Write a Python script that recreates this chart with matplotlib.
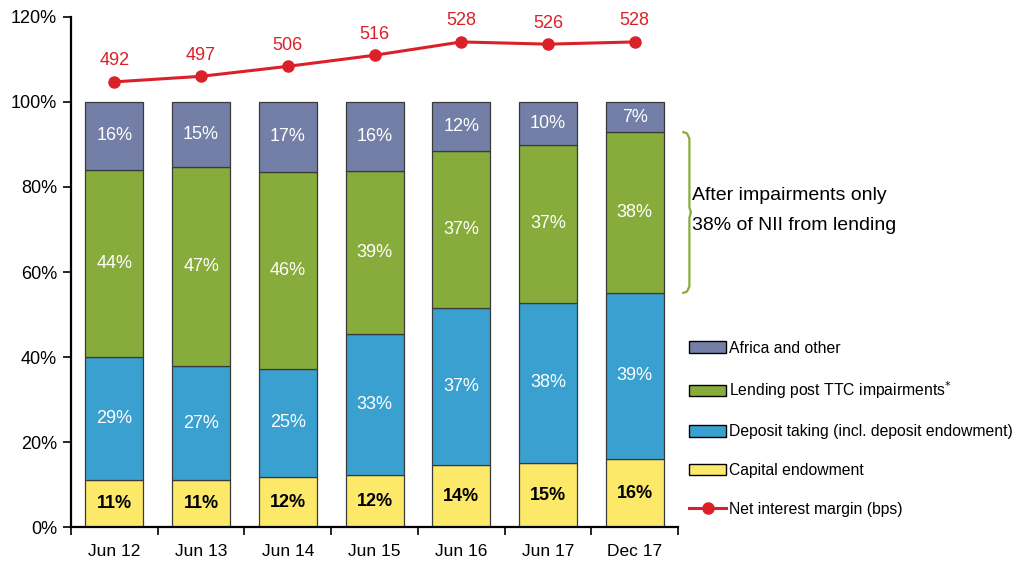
import numpy as np
import matplotlib.pyplot as plt
from matplotlib.patches import Patch
from matplotlib.lines import Line2D

plt.rcParams['font.family'] = ['Liberation Sans', 'DejaVu Sans']

periods = ["Jun 12", "Jun 13", "Jun 14", "Jun 15", "Jun 16", "Jun 17", "Dec 17"]

# segment heights (% of NII)
capital = [11.0, 11.0, 11.8, 12.2, 14.6, 15.1, 16.0]
deposit = [29.0, 26.9, 25.4, 33.2, 36.9, 37.6, 39.1]
lending = [44.0, 46.8, 46.3, 38.4, 37.0, 37.2, 37.8]
africa  = [16.0, 15.3, 16.5, 16.2, 11.5, 10.1, 7.1]

# printed labels
capital_lbl = [11, 11, 12, 12, 14, 15, 16]
deposit_lbl = [29, 27, 25, 33, 37, 38, 39]
lending_lbl = [44, 47, 46, 39, 37, 37, 38]
africa_lbl  = [16, 15, 17, 16, 12, 10, 7]

nim_bps = [492, 497, 506, 516, 528, 526, 528]

C_CAP = "#FCE96A"
C_DEP = "#3AA0D0"
C_LEN = "#88AC3B"
C_AFR = "#737FA6"
C_RED = "#DA2129"
EDGE = "#3a3a3a"

fig = plt.figure(figsize=(10.17, 5.62), dpi=100)
ax = fig.add_axes([0.0698, 0.062, 0.597, 0.908])

x = np.arange(len(periods))
w = 0.67
series = [
    (capital, capital_lbl, C_CAP, "black"),
    (deposit, deposit_lbl, C_DEP, "white"),
    (lending, lending_lbl, C_LEN, "white"),
    (africa, africa_lbl, C_AFR, "white"),
]
bottom = np.zeros(len(periods))
for vals, lbls, col, tcol in series:
    vals = np.array(vals)
    ax.bar(x, vals, w, bottom=bottom, color=col, edgecolor=EDGE, linewidth=0.9, zorder=2)
    for xi, b, v, l in zip(x, bottom, vals, lbls):
        ax.text(xi, b + v / 2, f"{l}%", ha="center", va="center",
                color=tcol, fontsize=13,
                fontweight="bold" if col == C_CAP else "normal", zorder=3)
    bottom = bottom + vals

ax.set_xlim(-0.5, len(periods) - 0.5)
ax.set_ylim(0, 120)
ax.set_yticks(np.arange(0, 121, 20))
ax.set_yticklabels([f"{v}%" for v in range(0, 121, 20)], fontsize=13)
ax.set_xticks(x)
ax.set_xticklabels(periods, fontsize=12.5)
ax.set_xticks(np.arange(-0.5, len(periods), 1), minor=True)
ax.tick_params(axis="x", which="major", length=0, pad=12)
ax.tick_params(axis="x", which="minor", length=6, width=1.2, direction="out")
ax.tick_params(axis="y", length=6, width=1.2, direction="out", pad=4)
for s in ["top", "right"]:
    ax.spines[s].set_visible(False)
for s in ["left", "bottom"]:
    ax.spines[s].set_linewidth(1.6)

# NIM line on a hidden secondary scale
ax2 = ax.twinx()
ax2.set_ylim(90.6, 550.6)
ax2.axis("off")
ax2.plot(x, nim_bps, color=C_RED, lw=2.2, marker="o", ms=8, zorder=4)
for xi, v in zip(x, nim_bps):
    ax2.annotate(f"{v}", (xi, v), xytext=(0, 9), textcoords="offset points",
                 ha="center", va="bottom", color=C_RED, fontsize=13)

# brace around Dec 17 lending segment
y0 = capital[-1] + deposit[-1]
y1 = y0 + lending[-1]
ym = (y0 + y1) / 2
xb = len(periods) - 0.5 + 0.06
d = 0.07
ax.plot([xb, xb + d * 0.6, xb + d, xb + d, xb + d * 1.25, xb + d, xb + d, xb + d * 0.6, xb],
        [y1, y1 - 0.3, y1 - 1.5, ym + 1.2, ym, ym - 1.2, y0 + 1.5, y0 + 0.3, y0],
        color=C_LEN, lw=1.6, clip_on=False)
ax.text(xb + 0.1, ym + 0.5, "After impairments only\n38% of NII from lending",
        ha="left", va="center", fontsize=14, linespacing=1.95)

handles = [
    Patch(facecolor=C_AFR, edgecolor="black"),
    Patch(facecolor=C_LEN, edgecolor="black"),
    Patch(facecolor=C_DEP, edgecolor="black"),
    Patch(facecolor=C_CAP, edgecolor="black"),
    Line2D([], [], color=C_RED, lw=2.2, marker="o", ms=8),
]
labels = [
    "Africa and other",
    "Lending post TTC impairments$^{*}$",
    "Deposit taking (incl. deposit endowment)",
    "Capital endowment",
    "Net interest margin (bps)",
]
fig.legend(handles, labels, loc="upper left", bbox_to_anchor=(0.671, 0.405),
           frameon=False, fontsize=11.3, handlelength=2.4, handleheight=0.75,
           handletextpad=0.15, labelspacing=1.5, borderaxespad=0)

fig.savefig("out.png", dpi=100)
